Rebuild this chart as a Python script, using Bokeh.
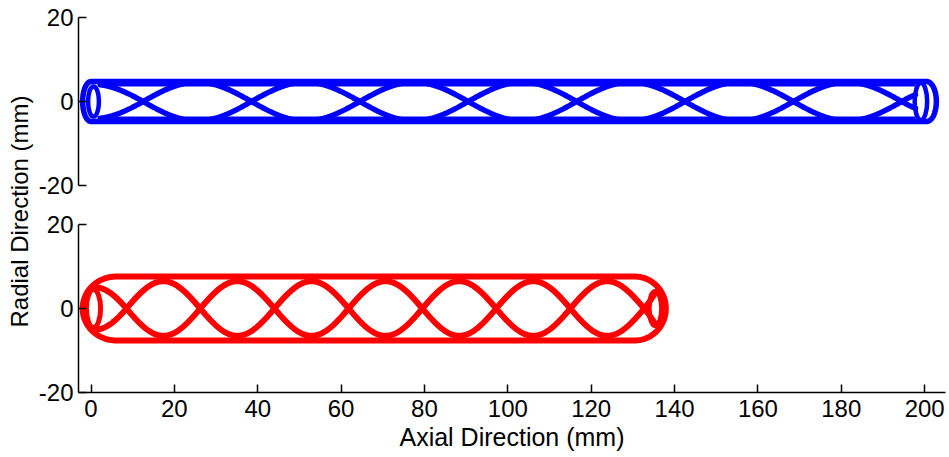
import numpy as np
from bokeh.plotting import figure
from bokeh.layouts import column, row
from bokeh.models import Range1d, FixedTicker, Label
from bokeh.embed import file_html
from bokeh.resources import INLINE

FONT = "Liberation Sans"

# Axis ticks and limits (mm)
x_ticks = [0, 20, 40, 60, 80, 100, 120, 140, 160, 180, 200]
y_ticks = [-20, 0, 20]
y_tick_labels = ["-20", "0", "20"]
x_limits = [-3, 205]
y_limits = [-20, 20]

# Long stent (top panel, blue), mm
blue_body = [0.0, 200.5]        # straight part of the outline
blue_cap = [2.0, 2.3]           # depth of the rounded ends
blue_radius = 4.75
blue_inner_radius = 3.85
blue_crossings = [12.5, 38.5, 64.5, 90.5, 116.5, 142.5, 168.5, 194.5]
blue_amplitude = 4.6
blue_wire_span = [2.2, 197.8]
blue_wire_tip = [4.0, 1.6]      # |y| where the wires end
blue_ring_x = [0.6, 199.1]
blue_ring_w = [2.6, 3.0]
blue_ring_h = [7.2, 8.8]

# Short stent (bottom panel, red), mm
red_body = [6.0, 130.5]
red_cap = [8.0, 7.4]
red_radius = 7.6
red_crossings = [8.5, 26.2, 44.0, 61.8, 79.5, 97.2, 115.0, 132.7]
red_amplitude = 6.5
red_wire_span = [1.7, 135.3]
red_wire_tip = [5.0, 3.6]
red_ring_x = [0.6, 135.4]
red_ring_w = [3.4, 3.0]
red_ring_h = [9.0, 8.2]


def outline(body, cap, r, n=90):
    """Closed tube silhouette: straight edges joined by rounded ends."""
    t = np.linspace(0, np.pi, n)
    xr = body[1] + cap[1] * np.sin(t)
    yr = r * np.cos(t)
    xl = body[0] - cap[0] * np.sin(t)
    yl = -r * np.cos(t)
    return np.concatenate([[body[0]], xr, xl]), np.concatenate([[r], yr, yl])


def wire(crossings, amp, span, tip, sign, n=1600):
    """Projected helical wire passing through the given zero crossings."""
    c = np.asarray(crossings, float)
    h = np.diff(c).mean()
    knots = np.concatenate([[c[0] - h], c, [c[-1] + h]])
    x = np.linspace(span[0], span[1], n)
    k = np.clip(np.searchsorted(knots, x, side="right") - 1, 0, len(knots) - 2)
    phase = (k + (x - knots[k]) / (knots[k + 1] - knots[k])) * np.pi
    base = np.sin(phase)
    env = np.full_like(x, amp)
    for idx, cross, xe, th in ((0, c[0], span[0], tip[0]), (-1, c[-1], span[1], tip[1])):
        a_end = th / max(abs(base[idx]), 1e-3)
        mask = (x < cross) if idx == 0 else (x > cross)
        w = (x[mask] - cross) / (xe - cross)
        env[mask] = amp + (a_end - amp) * w
    return x, sign * env * base


def panel(height, top, bottom, with_x_axis):
    p = figure(width=915, height=height,
               x_range=Range1d(*x_limits), y_range=Range1d(*y_limits),
               output_backend="svg", toolbar_location=None, title=None,
               x_axis_location="below" if with_x_axis else None,
               min_border_left=44, min_border_right=4,
               min_border_top=top, min_border_bottom=bottom)
    p.grid.visible = False
    p.outline_line_color = None
    p.background_fill_color = "white"
    p.border_fill_color = "white"
    for ax in p.axis:
        ax.axis_line_color = "black"
        ax.axis_line_width = 1.5
        ax.major_tick_line_color = "black"
        ax.major_tick_line_width = 1.5
        ax.major_tick_in = 8
        ax.major_tick_out = 0
        ax.minor_tick_line_color = None
        ax.major_label_text_font = FONT
        ax.major_label_text_font_size = "24px"
        ax.major_label_text_color = "black"
        ax.axis_label_text_font = FONT
        ax.axis_label_text_font_size = "25px"
        ax.axis_label_text_font_style = "normal"
        ax.axis_label_text_color = "black"
    p.yaxis.ticker = FixedTicker(ticks=y_ticks)
    p.yaxis.major_label_overrides = dict(zip(y_ticks, y_tick_labels))
    p.yaxis.major_label_standoff = 5
    if with_x_axis:
        p.xaxis.ticker = FixedTicker(ticks=x_ticks)
        p.xaxis.major_label_standoff = 7
        p.xaxis.axis_label = "Axial Direction (mm)"
        p.xaxis.axis_label_standoff = 3
    return p


def draw_stent(p, color, body, cap, radius, crossings, amp, span, tip,
               ring_x, ring_w, ring_h, inner_radius=None, lw=6):
    ox, oy = outline(body, cap, radius)
    p.line(ox, oy, line_color=color, line_width=lw, line_join="round")
    if inner_radius is not None:
        p.segment(x0=[span[0], span[0]], y0=[inner_radius, -inner_radius],
                  x1=[span[1], span[1]], y1=[inner_radius, -inner_radius],
                  line_color=color, line_width=2.5)
    for s in (1, -1):
        wx, wy = wire(crossings, amp, span, tip, s)
        p.line(wx, wy, line_color=color, line_width=lw, line_cap="round")
    p.ellipse(x=ring_x, y=[0, 0], width=ring_w, height=ring_h,
              fill_color=None, line_color=color, line_width=lw - 1)


top = panel(205, 17, 20, False)
draw_stent(top, "#0000ff", blue_body, blue_cap, blue_radius, blue_crossings,
           blue_amplitude, blue_wire_span, blue_wire_tip,
           blue_ring_x, blue_ring_w, blue_ring_h, inner_radius=blue_inner_radius, lw=5.5)

bottom = panel(252, 19, 65, True)
draw_stent(bottom, "#ff0000", red_body, red_cap, red_radius, red_crossings,
           red_amplitude, red_wire_span, red_wire_tip,
           red_ring_x, red_ring_w, red_ring_h, lw=6)

# Shared y-axis title in a narrow strip to the left of both panels
strip = figure(width=34, height=457, output_backend="svg", toolbar_location=None,
               title=None, x_axis_location=None, y_axis_location=None,
               min_border_left=0, min_border_right=0, min_border_top=0, min_border_bottom=0)
strip.grid.visible = False
strip.outline_line_color = None
strip.add_layout(Label(x=19, y=246, x_units="screen", y_units="screen",
                       text="Radial Direction (mm)", angle=np.pi / 2,
                       text_align="center", text_baseline="middle",
                       text_font=FONT, text_font_size="24px", text_color="black"))

layout = row(strip, column(top, bottom, spacing=0), spacing=0)

open("out.html", "w").write(file_html(layout, INLINE))
